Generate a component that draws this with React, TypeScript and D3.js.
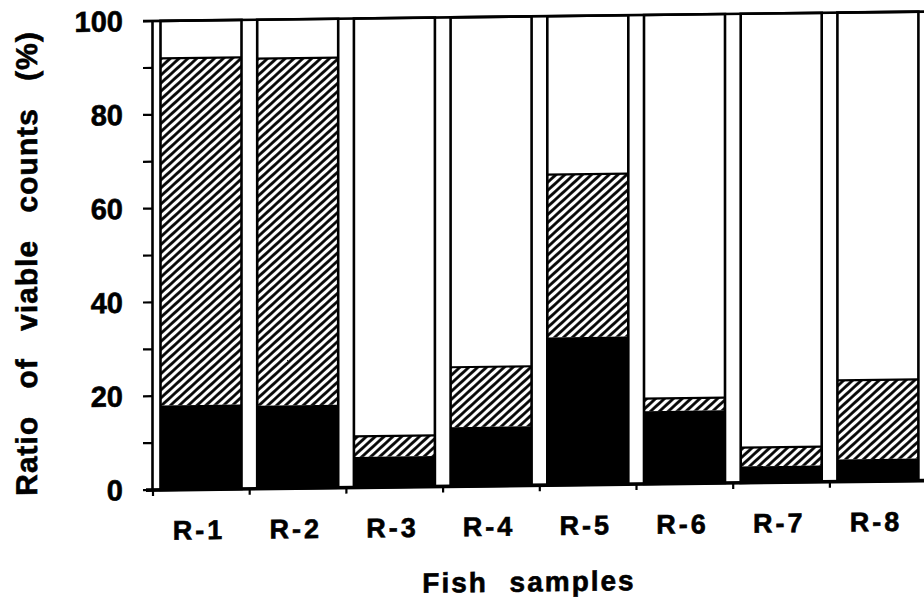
import React from "react";
import * as d3 from "d3";

const categories = ["R-1", "R-2", "R-3", "R-4", "R-5", "R-6", "R-7", "R-8"];
const blackValues = [18.0, 17.7, 6.5, 12.6, 31.5, 15.5, 3.5, 4.7];
const totalValues = [92.0, 91.7, 10.9, 25.4, 66.2, 18.2, 7.5, 21.6];
const yTicks = [0, 10, 20, 30, 40, 50, 60, 70, 80, 90, 100];
const yLabels = [0, 20, 40, 60, 80, 100];

const W = 924;
const H = 598;
const X0 = 153;
const STEP = 96.7;
const BAR_OFF = 7.5;
const BAR_W = 81;
const FONT = "'Liberation Sans', Arial, Helvetica, sans-serif";

export default function App() {
  const y = d3.scaleLinear().domain([0, 100]).range([490, 21]);
  const x = d3
    .scaleBand<string>()
    .domain(categories)
    .range([X0, X0 + STEP * categories.length])
    .paddingInner(0)
    .paddingOuter(0);

  const skew = `translate(${X0},0) skewY(-0.7) translate(${-X0},0)`;

  return (
    <svg
      width={W}
      height={H}
      style={{ position: "absolute", left: 0, top: 0, background: "#fff" }}
    >
      <defs>
        <pattern
          id="hatch"
          patternUnits="userSpaceOnUse"
          width={6}
          height={10}
          patternTransform="rotate(48)"
        >
          <rect width={6} height={10} fill="#fff" />
          <line x1={1.5} y1={0} x2={1.5} y2={10} stroke="#000" strokeWidth={2.8} />
        </pattern>
      </defs>
      <rect width={W} height={H} fill="#fff" />
      <g
        transform={skew}
        fontFamily={FONT}
        fontWeight="bold"
        fill="#000"
        stroke="#000"
        strokeWidth={0}
      >
        {categories.map((c, i) => {
          const bx = (x(c) as number) + BAR_OFF;
          const yb = y(blackValues[i]);
          const yt = y(totalValues[i]);
          return (
            <g key={c}>
              <rect x={bx} y={y(100)} width={BAR_W} height={y(0) - y(100)} fill="#fff" />
              <rect x={bx} y={yt} width={BAR_W} height={yb - yt} fill="url(#hatch)" />
              <rect x={bx} y={yb} width={BAR_W} height={y(0) - yb} fill="#000" />
              <line x1={bx} x2={bx + BAR_W} y1={yt} y2={yt} stroke="#000" strokeWidth={2.2} />
              <rect
                x={bx}
                y={y(100)}
                width={BAR_W}
                height={y(0) - y(100)}
                fill="none"
                stroke="#000"
                strokeWidth={2.6}
              />
              <text
                x={bx + BAR_W / 2 - 2}
                y={540}
                textAnchor="middle"
                fontSize={27}
                letterSpacing={3}
                strokeWidth={0.6}
              >
                {c}
              </text>
            </g>
          );
        })}

        {/* top frame line */}
        <line x1={143} x2={W + 5} y1={y(100)} y2={y(100)} stroke="#000" strokeWidth={2.6} />
        {/* y axis */}
        <line x1={X0 - 0.5} x2={X0 - 0.5} y1={y(100)} y2={y(0) + 1} stroke="#000" strokeWidth={2.6} />
        {yTicks.map((t) => (
          <line key={t} x1={143} x2={X0} y1={y(t)} y2={y(t)} stroke="#000" strokeWidth={2.2} />
        ))}
        {yLabels.map((t) => (
          <text
            key={t}
            x={123}
            y={y(t)}
            textAnchor="end"
            dominantBaseline="central"
            fontSize={29}
            strokeWidth={0.6}
          >
            {t}
          </text>
        ))}
        {/* x axis */}
        <line x1={146} x2={W + 5} y1={y(0)} y2={y(0)} stroke="#000" strokeWidth={3.6} />
        {categories.map((c) => (
          <line
            key={c}
            x1={x(c) as number}
            x2={x(c) as number}
            y1={y(0)}
            y2={y(0) + 6}
            stroke="#000"
            strokeWidth={2.2}
          />
        ))}

        <text
          x={529}
          y={596}
          textAnchor="middle"
          fontSize={28}
          letterSpacing={2}
          wordSpacing={12}
          strokeWidth={0.6}
        >
          Fish samples
        </text>
        <text
          transform={`translate(37,262) rotate(-90)`}
          textAnchor="middle"
          fontSize={30}
          letterSpacing={1}
          wordSpacing={18}
          strokeWidth={0.6}
        >
          Ratio of viable counts (%)
        </text>
      </g>
    </svg>
  );
}
